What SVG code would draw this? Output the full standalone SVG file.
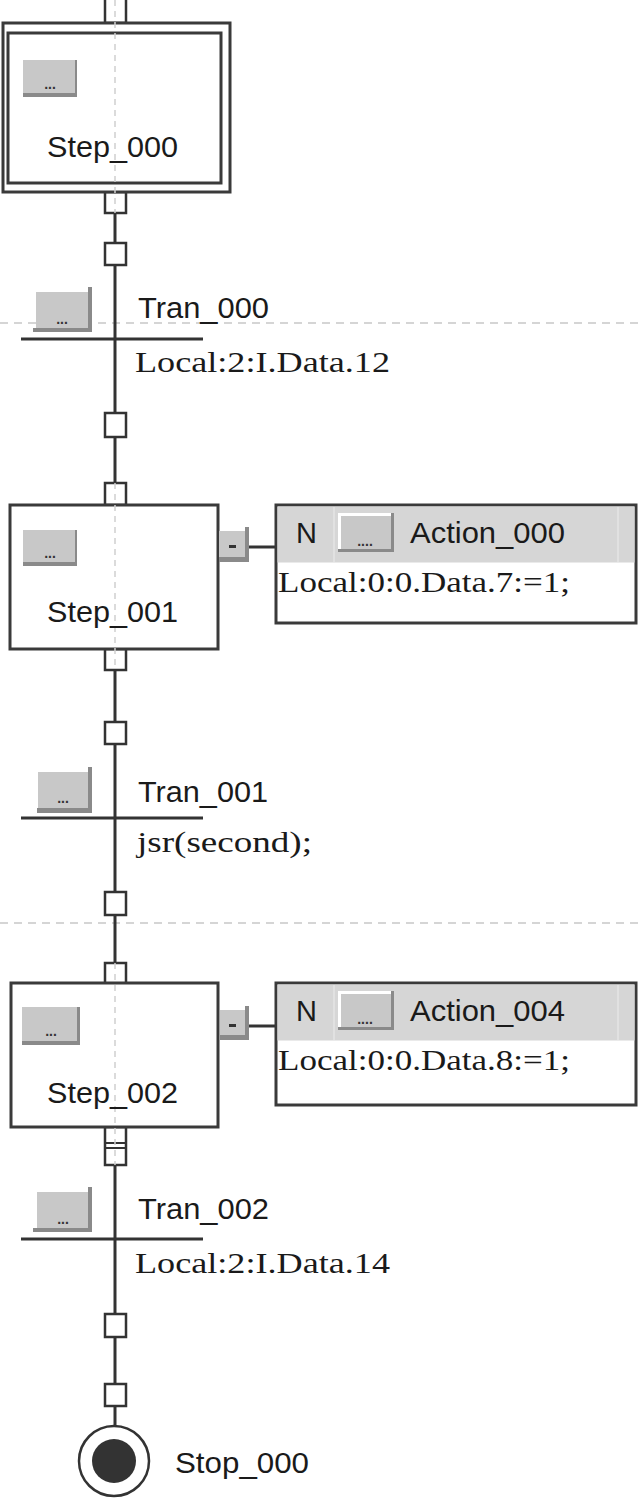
<svg xmlns="http://www.w3.org/2000/svg" width="638" height="1498" viewBox="0 0 638 1498">
<style>
.bg{fill:#ffffff}
.ln{stroke:#333;stroke-width:3;fill:none}
.cbox{fill:#fff;stroke:#333;stroke-width:2.5}
.stepbox{fill:#fff;stroke:#3a3a3a;stroke-width:3}
.guide{stroke:#c8c8c8;stroke-width:1.5;stroke-dasharray:8 6;fill:none}
.vguide{stroke:#cfcfcf;stroke-width:1.5;stroke-dasharray:6 5;fill:none}
.lbl{font-family:"Liberation Sans",Arial,sans-serif;font-size:29px;fill:#1a1a1a}
.code{font-family:"Liberation Serif","Times New Roman",serif;font-size:30px;fill:#1a1a1a}
.btn{fill:#c8c8c8}
.btnd{fill:#8a8a8a}
.btnhl{fill:#ffffff}
.dots{font-family:"Liberation Sans",Arial,sans-serif;font-size:14px;font-weight:bold;fill:#333}
.hdr{fill:#d6d6d6}
</style>
<rect class="bg" x="0" y="0" width="638" height="1498"/>

<!-- guide lines -->
<g id="guides">
<line class="guide" x1="0" y1="323" x2="638" y2="323"/>
<line class="guide" x1="0" y1="923" x2="638" y2="923"/>
</g>

<!-- connectors -->
<g id="connectors">
<line class="ln" x1="115" y1="213" x2="115" y2="243"/>
<line class="ln" x1="115" y1="265" x2="115" y2="413"/>
<line class="ln" x1="115" y1="437" x2="115" y2="483"/>
<line class="ln" x1="115" y1="670" x2="115" y2="722"/>
<line class="ln" x1="115" y1="744" x2="115" y2="892"/>
<line class="ln" x1="115" y1="915" x2="115" y2="963"/>
<line class="ln" x1="115" y1="1165" x2="115" y2="1314"/>
<line class="ln" x1="115" y1="1337" x2="115" y2="1384"/>
<line class="ln" x1="115" y1="1406" x2="115" y2="1426"/>
<line class="ln" x1="249" y1="547" x2="276" y2="547"/>
<line class="ln" x1="249" y1="1026" x2="276" y2="1026"/>
<rect class="cbox" x="105" y="-3" width="21" height="26"/>
<rect class="cbox" x="105" y="192" width="21" height="21"/>
<rect class="cbox" x="105" y="243" width="21" height="22"/>
<rect class="cbox" x="105" y="413" width="21" height="24"/>
<rect class="cbox" x="105" y="483" width="21" height="22"/>
<rect class="cbox" x="105" y="649" width="21" height="21"/>
<rect class="cbox" x="105" y="722" width="21" height="22"/>
<rect class="cbox" x="105" y="892" width="21" height="23"/>
<rect class="cbox" x="105" y="963" width="21" height="21"/>
<rect class="cbox" x="105" y="1127" width="21" height="38"/>
<line stroke="#333" stroke-width="2" x1="105" y1="1143" x2="126" y2="1143"/>
<line stroke="#333" stroke-width="2" x1="105" y1="1148" x2="126" y2="1148"/>
<rect class="cbox" x="105" y="1314" width="21" height="23"/>
<rect class="cbox" x="105" y="1384" width="21" height="22"/>
</g>

<!-- Step_000 -->
<g id="Step_000">
<rect class="stepbox" x="3" y="23" width="227" height="169"/>
<rect class="stepbox" x="8" y="33" width="213" height="150"/>
<line class="vguide" x1="115" y1="0" x2="115" y2="213"/>
<rect class="btn" x="23" y="60" width="54" height="37"/>
<rect class="btnd" x="23" y="93" width="54" height="4"/>
<rect class="btnd" x="75" y="60" width="2" height="37"/>
<text class="dots" x="50" y="89" text-anchor="middle">...</text>
<text class="lbl" x="47" y="157" textLength="131" lengthAdjust="spacingAndGlyphs">Step_000</text>
</g>

<!-- Tran_000 -->
<g id="Tran_000">
<line class="ln" x1="21" y1="339" x2="203" y2="339"/>
<rect class="btn" x="36" y="292" width="53" height="38"/>
<rect class="btnd" x="88" y="287" width="4" height="45"/>
<rect class="btnd" x="33" y="328" width="59" height="4"/>
<text class="dots" x="62" y="324" text-anchor="middle">...</text>
<text class="lbl" x="138" y="318" textLength="131" lengthAdjust="spacingAndGlyphs">Tran_000</text>
<text class="code" x="135" y="372" textLength="255" lengthAdjust="spacingAndGlyphs">Local:2:I.Data.12</text>
</g>

<!-- Step_001 -->
<g id="Step_001">
<rect class="stepbox" x="10" y="505" width="208" height="144"/>
<line class="vguide" x1="115" y1="483" x2="115" y2="670"/>
<rect class="btn" x="23" y="530" width="54" height="36"/>
<rect class="btnd" x="23" y="562" width="54" height="4"/>
<rect class="btnd" x="75" y="530" width="2" height="36"/>
<text class="dots" x="50" y="558" text-anchor="middle">...</text>
<text class="lbl" x="47" y="622" textLength="131" lengthAdjust="spacingAndGlyphs">Step_001</text>
<rect class="btn" x="219" y="531" width="30" height="31"/>
<rect class="btnd" x="219" y="557" width="30" height="5"/>
<rect class="btnd" x="245" y="527" width="4" height="35"/>
<rect fill="#333" x="229" y="545" width="7" height="3"/>
</g>

<!-- Action_000 -->
<g id="Action_000">
<rect fill="#fff" stroke="#3a3a3a" stroke-width="3" x="276" y="505" width="360" height="118"/>
<rect class="hdr" x="277.5" y="506.5" width="357" height="56"/>
<line stroke="#e4e4e4" stroke-width="1.5" x1="334" y1="507" x2="334" y2="562"/>
<line stroke="#e4e4e4" stroke-width="1.5" x1="618" y1="507" x2="618" y2="562"/>
<text class="lbl" x="296" y="543" font-size="26">N</text>
<rect class="btnhl" x="338" y="513" width="56" height="39"/>
<rect class="btn" x="341" y="516" width="50" height="33"/>
<rect class="btnd" x="338" y="549" width="56" height="3"/>
<rect class="btnd" x="391" y="513" width="3" height="39"/>
<text class="dots" x="365" y="546" text-anchor="middle" font-size="12">....</text>
<text class="lbl" x="410" y="543" textLength="155" lengthAdjust="spacingAndGlyphs">Action_000</text>
<text class="code" x="278" y="592" textLength="292" lengthAdjust="spacingAndGlyphs">Local:0:0.Data.7:=1;</text>
</g>

<!-- Tran_001 -->
<g id="Tran_001">
<line class="ln" x1="21" y1="818" x2="203" y2="818"/>
<rect class="btn" x="38" y="772" width="51" height="38"/>
<rect class="btnd" x="88" y="767" width="4" height="46"/>
<rect class="btnd" x="37" y="808" width="55" height="5"/>
<text class="dots" x="63" y="803" text-anchor="middle">...</text>
<text class="lbl" x="138" y="802" textLength="130" lengthAdjust="spacingAndGlyphs">Tran_001</text>
<text class="code" x="137" y="852" textLength="175" lengthAdjust="spacingAndGlyphs">jsr(second);</text>
</g>

<!-- Step_002 -->
<g id="Step_002">
<rect class="stepbox" x="11" y="983" width="207" height="144"/>
<line class="vguide" x1="115" y1="963" x2="115" y2="1165"/>
<rect class="btn" x="22" y="1007" width="58" height="38"/>
<rect class="btnd" x="22" y="1041" width="58" height="4"/>
<rect class="btnd" x="77" y="1007" width="3" height="38"/>
<text class="dots" x="51" y="1036" text-anchor="middle">...</text>
<text class="lbl" x="47" y="1103" textLength="131" lengthAdjust="spacingAndGlyphs">Step_002</text>
<rect class="btn" x="220" y="1010" width="29" height="30"/>
<rect class="btnd" x="220" y="1035" width="29" height="5"/>
<rect class="btnd" x="245" y="1006" width="4" height="34"/>
<rect fill="#333" x="229" y="1024" width="7" height="3"/>
</g>

<!-- Action_004 -->
<g id="Action_004">
<rect fill="#fff" stroke="#3a3a3a" stroke-width="3" x="276" y="983" width="360" height="122"/>
<rect class="hdr" x="277.5" y="984.5" width="357" height="56"/>
<line stroke="#e4e4e4" stroke-width="1.5" x1="334" y1="985" x2="334" y2="1040"/>
<line stroke="#e4e4e4" stroke-width="1.5" x1="618" y1="985" x2="618" y2="1040"/>
<text class="lbl" x="296" y="1021" font-size="26">N</text>
<rect class="btnhl" x="338" y="991" width="56" height="39"/>
<rect class="btn" x="341" y="994" width="50" height="33"/>
<rect class="btnd" x="338" y="1027" width="56" height="3"/>
<rect class="btnd" x="391" y="991" width="3" height="39"/>
<text class="dots" x="365" y="1024" text-anchor="middle" font-size="12">....</text>
<text class="lbl" x="410" y="1021" textLength="155" lengthAdjust="spacingAndGlyphs">Action_004</text>
<text class="code" x="278" y="1070" textLength="292" lengthAdjust="spacingAndGlyphs">Local:0:0.Data.8:=1;</text>
</g>

<!-- Tran_002 -->
<g id="Tran_002">
<line class="ln" x1="21" y1="1239" x2="203" y2="1239"/>
<rect class="btn" x="37" y="1192" width="52" height="38"/>
<rect class="btnd" x="88" y="1187" width="4" height="45"/>
<rect class="btnd" x="33" y="1228" width="59" height="4"/>
<text class="dots" x="63" y="1224" text-anchor="middle">...</text>
<text class="lbl" x="138" y="1219" textLength="131" lengthAdjust="spacingAndGlyphs">Tran_002</text>
<text class="code" x="135" y="1273" textLength="255" lengthAdjust="spacingAndGlyphs">Local:2:I.Data.14</text>
</g>

<!-- Stop_000 -->
<g id="Stop_000">
<circle cx="114" cy="1461" r="35" fill="#fff" stroke="#333" stroke-width="2.5"/>
<circle cx="114" cy="1461" r="22" fill="#333"/>
<text class="lbl" x="175" y="1473" textLength="134" lengthAdjust="spacingAndGlyphs">Stop_000</text>
</g>
</svg>
